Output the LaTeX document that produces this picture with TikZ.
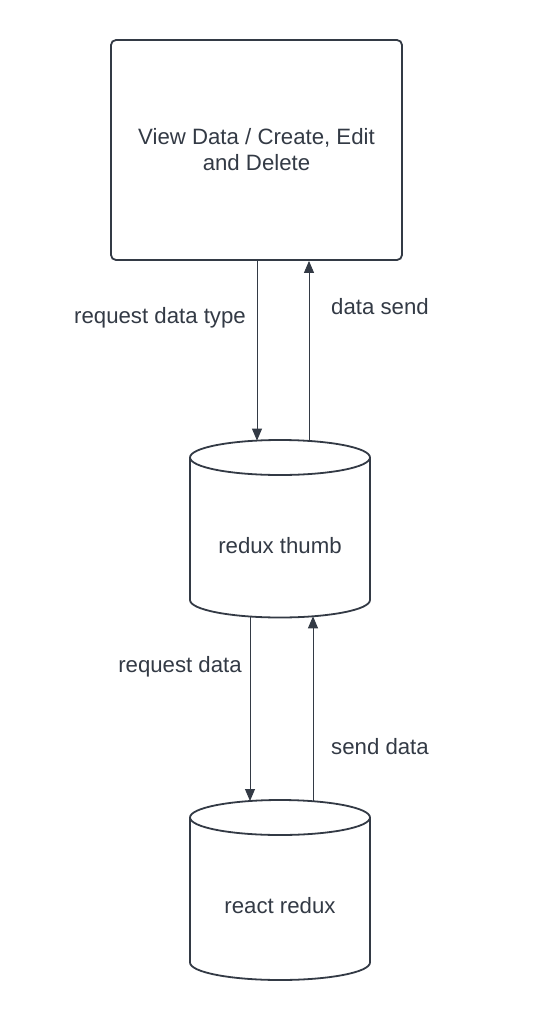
\documentclass[tikz,border=0pt]{standalone}
\usepackage{fontspec}
\setmainfont{Liberation Sans}
\usetikzlibrary{arrows.meta}
\definecolor{ink}{HTML}{333A45}
\begin{document}
\begin{tikzpicture}[x=1pt,y=-1pt,
  font=\fontsize{22.2}{26}\selectfont, text=ink,
  shapeline/.style={draw=ink, line width=1.8pt},
  conn/.style={draw=ink, line width=0.9pt, -{Triangle[length=12pt,width=10pt]}},
  lbl/.style={inner sep=0pt}]
\useasboundingbox[fill=white] (0,0) rectangle (540,1020);
% top box
\node[shapeline, rounded corners=5pt, minimum width=291pt, minimum height=220pt, align=center] (box) at (256.5,150) {View Data / Create, Edit\\and Delete};
% cylinder 1
\draw[shapeline] (280,457.5) ellipse [x radius=90, y radius=17.5];
\draw[shapeline] (190,457.5) -- (190,600) arc[start angle=180, end angle=0, x radius=90, y radius=17.5] -- (370,457.5);
\node (thumb) at (280,546) {redux thumb};
% cylinder 2
\draw[shapeline] (280,817.5) ellipse [x radius=90, y radius=17.5];
\draw[shapeline] (190,817.5) -- (190,962.5) arc[start angle=180, end angle=0, x radius=90, y radius=17.5] -- (370,817.5);
\node (redux) at (280,906) {react redux};
% connector ends on cylinder outlines
\coordinate (t1a) at (257,440.6);
\coordinate (t1b) at (309,440.9);
\coordinate (b1a) at (250,616.5);
\coordinate (b1b) at (313,616.3);
\coordinate (t2a) at (250,801);
\coordinate (t2b) at (313,801.2);
% connectors
\draw[conn] (box.south -| t1a) -- (t1a);
\draw[conn] (t1b) -- (box.south -| t1b);
\draw[conn] (b1a) -- (t2a);
\draw[conn] (t2b) -- (b1b);
% labels
\node[lbl] (l1) at (160,318) {request data type};
\node[lbl] (l2) at (380,307) {data send};
\node[lbl] (l3) at (180,667) {request data};
\node[lbl] (l4) at (380,747) {send data};
\end{tikzpicture}
\end{document}
